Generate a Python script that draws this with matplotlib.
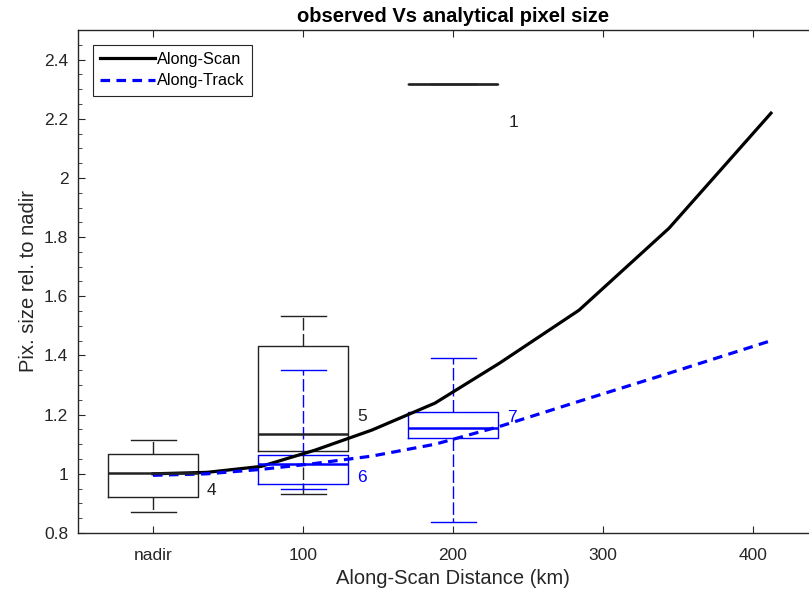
import matplotlib.pyplot as plt
import numpy as np

plt.rcParams['font.family'] = ['Liberation Sans', 'DejaVu Sans']

# analytical curves (km vs relative pixel size)
dist_km = [0, 36, 72, 108, 146, 188, 231, 284, 344, 412]
along_scan = [1.0, 1.005, 1.025, 1.08, 1.148, 1.239, 1.374, 1.553, 1.83, 2.219]
along_track = [0.995, 1.0, 1.015, 1.035, 1.06, 1.10, 1.16, 1.245, 1.34, 1.45]

# observed boxes
box_pos = [0, 100, 200, 100, 200]
box_q1 = [0.923, 1.078, 2.317, 0.967, 1.120]
box_med = [1.002, 1.133, 2.317, 1.032, 1.154]
box_q3 = [1.067, 1.431, 2.317, 1.062, 1.210]
box_lo = [0.870, 0.932, 2.317, 0.949, 0.838]
box_hi = [1.113, 1.532, 2.317, 1.351, 1.390]
box_n = ['4', '5', '1', '6', '7']
box_col = ['#222222', '#222222', '#222222', 'blue', 'blue']
label_xy = [(36, 0.942), (136, 1.195), (237, 2.189), (136, 0.986), (236, 1.192)]

xticks = [0, 100, 200, 300, 400]
xticklabels = ['nadir', '100', '200', '300', '400']

fig = plt.figure(figsize=(8.09, 5.94), dpi=100)
ax = fig.add_axes([78/809, 61/594, 750/809, 503/594])

gray = '#262626'

for i in range(len(box_pos)):
    st = [dict(med=box_med[i], q1=box_q1[i], q3=box_q3[i],
               whislo=box_lo[i], whishi=box_hi[i], fliers=[])]
    c = box_col[i]
    ax.bxp(st, positions=[box_pos[i]], widths=60, capwidths=30,
           boxprops=dict(color=c, lw=1.0),
           medianprops=dict(color=c, lw=1.8),
           whiskerprops=dict(color=c, lw=1.0, linestyle=(0, (9, 2.5))),
           capprops=dict(color=c, lw=1.0),
           manage_ticks=False)
    ax.text(label_xy[i][0], label_xy[i][1], box_n[i], color=c,
            fontsize=12.5, ha='left', va='center')

ax.plot(dist_km, along_scan, color='black', lw=2.3, label='Along-Scan')
ax.plot(dist_km, along_track, color='blue', lw=2.3, linestyle=(0, (3, 2)),
        label='Along-Track')

ax.set_xlim(-50, 450)
ax.set_ylim(0.8, 2.5)
ax.set_xticks(xticks)
ax.set_xticklabels(xticklabels)
ax.set_yticks([0.8, 1, 1.2, 1.4, 1.6, 1.8, 2, 2.2, 2.4])
ax.set_yticklabels(['0.8', '1', '1.2', '1.4', '1.6', '1.8', '2', '2.2', '2.4'])
ax.set_yticks(np.arange(0.8, 2.5, 0.05), minor=True)
ax.tick_params(direction='in', top=True, right=True, length=5, color=gray,
               labelcolor=gray, labelsize=12.5)
ax.tick_params(axis='x', pad=11)
ax.tick_params(axis='y', pad=7)
ax.tick_params(which='minor', direction='in', length=3, color=gray, right=True)
for s in ax.spines.values():
    s.set_color(gray)
    s.set_linewidth(1.0)

ax.set_xlabel('Along-Scan Distance (km)', fontsize=14.5, color=gray, labelpad=4)
ax.set_ylabel('Pix. size rel. to nadir', fontsize=14.5, color=gray, labelpad=4)
ax.set_title('observed Vs analytical pixel size', fontsize=14.5,
             fontweight='bold', pad=6)

leg = ax.legend(loc='upper left', fontsize=11.7, handlelength=3.4,
                handletextpad=0.1, borderpad=0.45, labelspacing=0.4,
                fancybox=False, framealpha=1, borderaxespad=0.9)
leg.get_frame().set_edgecolor(gray)
leg.get_frame().set_linewidth(0.8)

fig.savefig('out.png', dpi=100)
